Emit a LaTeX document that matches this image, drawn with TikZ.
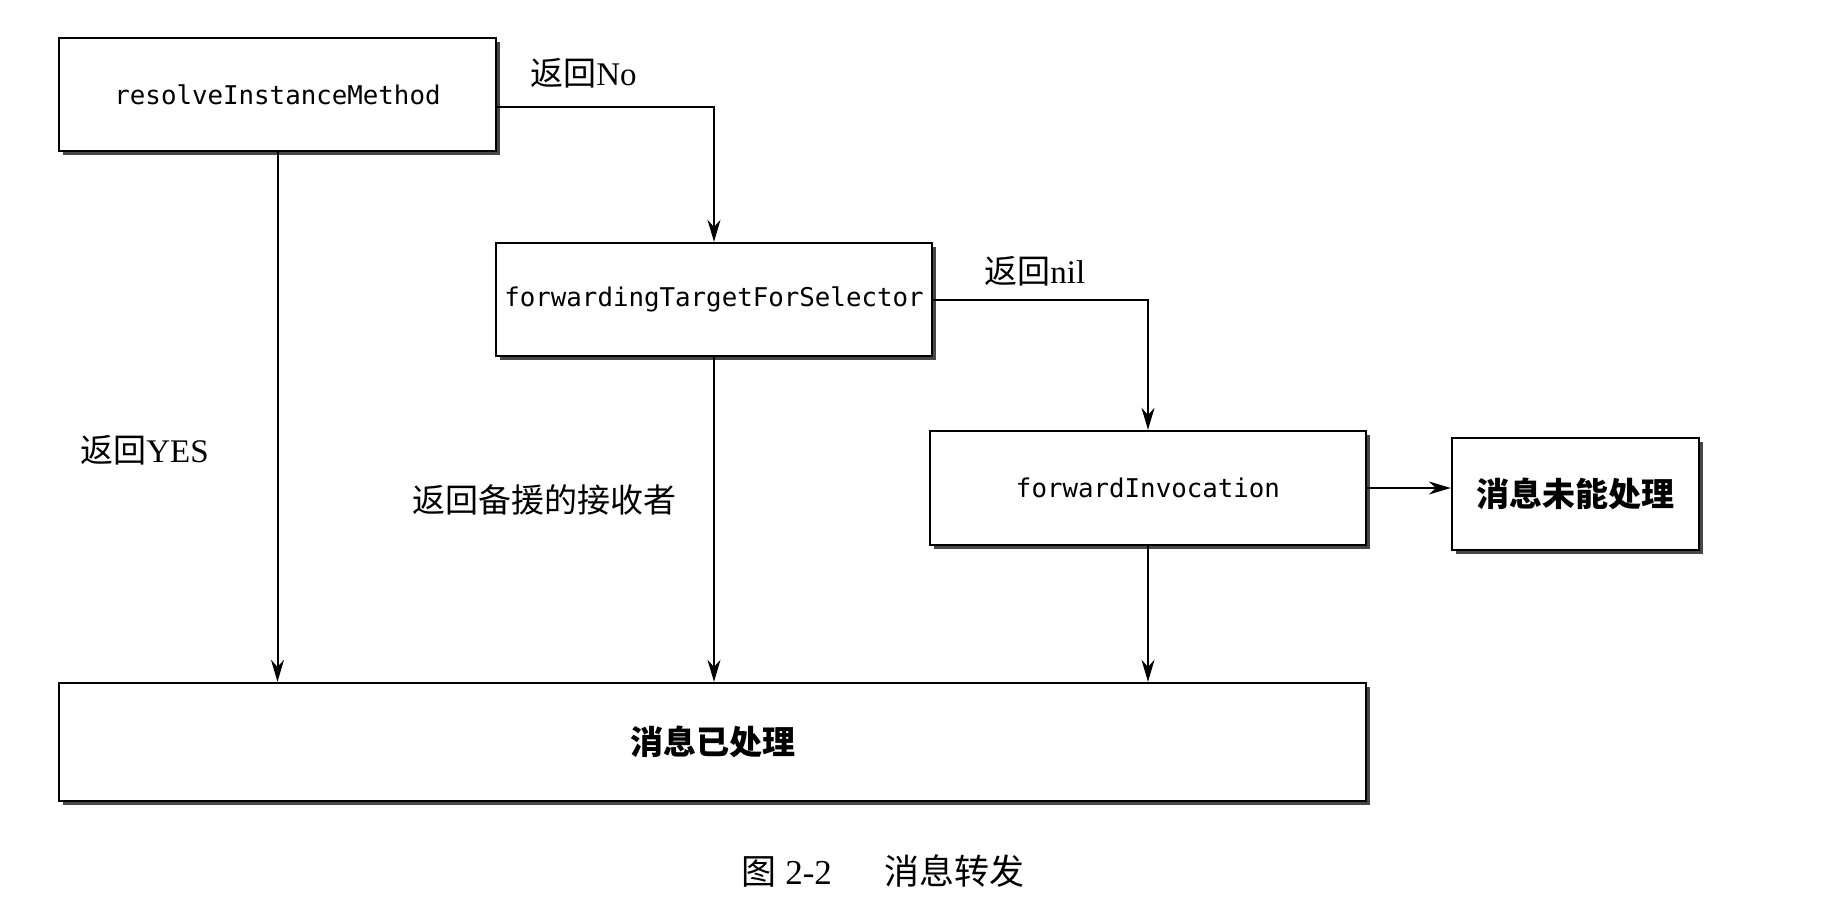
\documentclass[tikz,border=0pt]{standalone}
\usepackage{fontspec}
\setmainfont{Liberation Serif}
\newfontfamily\cjk{Noto Sans CJK SC}
\newfontfamily\monof{DejaVu Sans Mono}
\usetikzlibrary{arrows.meta,shadows}
\begin{document}
\begin{tikzpicture}[x=0.5pt,y=-0.5pt,
 box/.style={draw=black, line width=1.2pt, fill=white, rectangle, inner sep=0pt,
   drop shadow={shadow xshift=2pt, shadow yshift=-2pt, fill=black!80, opacity=0.9}},
 mtext/.style={font=\monof\fontsize{12.9}{15}\selectfont},
 ctext/.style={font=\cjk\bfseries\fontsize{16.5}{20}\selectfont},
 lbl/.style={font=\fontsize{16.5}{20}\selectfont, inner sep=0pt, anchor=west},
 arr/.style={draw=black, line width=1pt, -{Stealth[length=11pt,width=6.5pt]}}]
\useasboundingbox (0,0) rectangle (1846,906);
\node[box, mtext, minimum width=218.5pt, minimum height=56.5pt] (b1) at (277.5,94.5) {resolveInstanceMethod};
\node[box, mtext, minimum width=218pt, minimum height=56.5pt] (b2) at (714,299.5) {forwardingTargetForSelector};
\node[box, mtext, minimum width=218pt, minimum height=57pt] (b3) at (1148,488) {forwardInvocation};
\node[box, ctext, minimum width=123.5pt, minimum height=56pt] (b4) at (1575.5,494) {消息未能处理};
\node[box, ctext, minimum width=653.5pt, minimum height=59pt] (b5) at (712.5,742) {消息已处理};
\draw[arr] ([yshift=-6pt]b1.east) -| (b2.north);
\draw[arr] (b2.east) -| (b3.north);
\draw[arr] (b3.east) -- (b3.east -| b4.west);
\draw[arr] (b1.south) -- (b1.south |- b5.north);
\draw[arr] (b2.south) -- (b2.south |- b5.north);
\draw[arr] (b3.south) -- (b3.south |- b5.north);
\node[lbl] (l1) at (530,73) {{\cjk 返回}No};
\node[lbl] (l2) at (984,271) {{\cjk 返回}nil};
\node[lbl] (l3) at (80,450) {{\cjk 返回}YES};
\node[lbl] (l4) at (412,500) {\cjk 返回备援的接收者};
\node[font=\fontsize{17.5}{20}\selectfont] (cap) at (883,871) {{\cjk 图}~2-2\quad\enspace{\cjk 消息转发}};
\end{tikzpicture}
\end{document}
